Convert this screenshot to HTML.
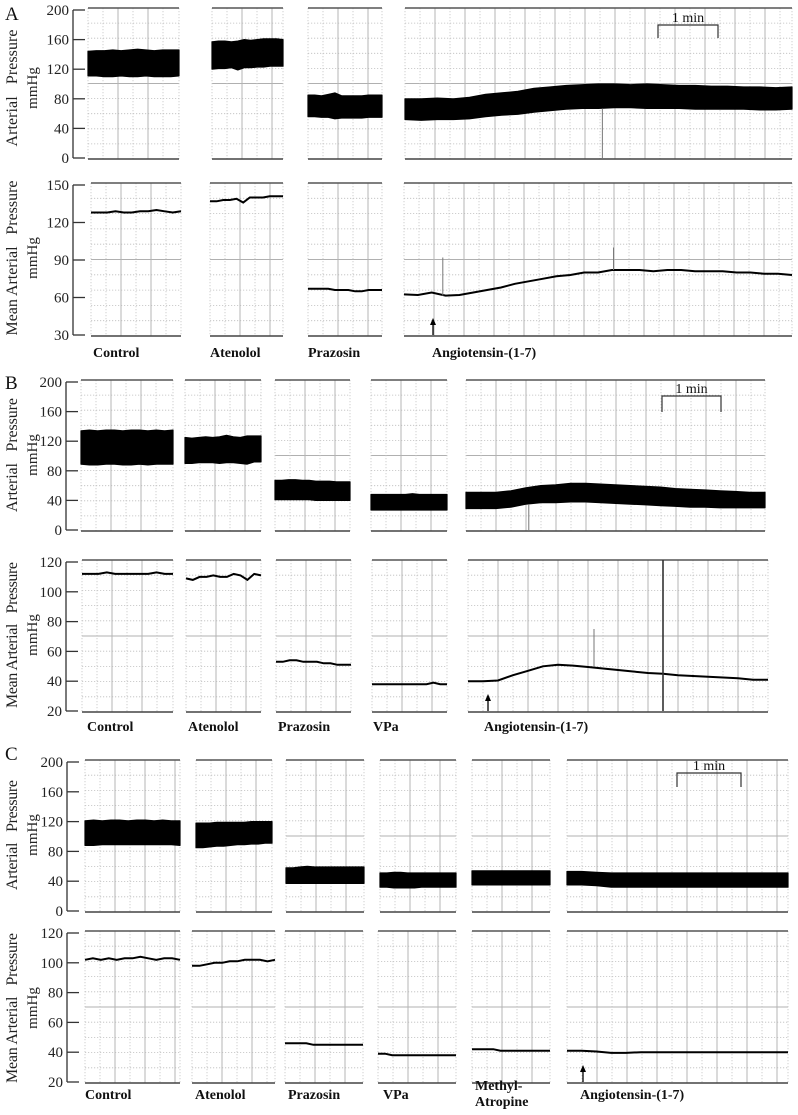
<!DOCTYPE html>
<html><head><meta charset="utf-8"><style>
html,body{margin:0;padding:0;background:#fff;}
svg{display:block;font-family:"Liberation Serif",serif;}
text{white-space:pre;}
</style></head><body>
<svg id="fig" width="798" height="1115" viewBox="0 0 798 1115" xmlns="http://www.w3.org/2000/svg"></svg>
<script>
// ---- Data (mmHg) ----
const aCats = ['Control','Atenolol','Prazosin','Angiotensin-(1-7)'];
const bCats = ['Control','Atenolol','Prazosin','VPa','Angiotensin-(1-7)'];
const cCats = ['Control','Atenolol','Prazosin','VPa','Methyl-Atropine','Angiotensin-(1-7)'];
const topTicks = [0,40,80,120,160,200];
const aMapTicks = [30,60,90,120,150];
const bcMapTicks = [20,40,60,80,100,120];

const aCtrlSys = [144,145,145,146,145,146,147,146,145,146,146,146];
const aCtrlDia = [111,111,110,110,111,110,110,111,110,110,110,111];
const aAtenSys = [157,158,158,157,158,160,159,160,161,161,161,160];
const aAtenDia = [120,121,121,122,119,122,122,123,123,124,124,124];
const aPrazSys = [85,85,84,86,88,84,84,84,84,85,85,85];
const aPrazDia = [56,56,55,55,53,54,54,54,54,55,55,55];
const aAngSys = [80,80,81,80,82,86,88,90,94,96,98,99,100,100,99,100,99,98,98,97,97,96,96,95,96];
const aAngDia = [52,51,52,52,53,56,58,59,62,64,66,67,67,68,68,67,67,67,66,66,66,66,65,65,66];
const aCtrlMap = [128,128,128,129,128,128,129,129,130,129,128,129];
const aAtenMap = [137,137,138,138,139,136,140,140,140,141,141,141];
const aPrazMap = [67,67,67,67,66,66,66,65,65,66,66,66];
const aAngMap = [62.5,62,64,61.5,62,64,66,68,71,73,75,77,78,80,80,82,82,82,81,82,82,81,81,81,80,80,79,79,78];

const bCtrlSys = [134,135,134,135,135,134,135,135,134,135,134,135];
const bCtrlDia = [89,88,88,89,89,88,88,89,88,89,89,89];
const bAtenSys = [125,124,125,126,125,126,128,126,125,127,127,127];
const bAtenDia = [90,90,91,91,91,90,91,91,90,89,92,92];
const bPrazSys = [67,67,68,68,67,67,66,66,66,65,65,65];
const bPrazDia = [41,41,41,41,41,41,40,40,40,40,40,40];
const bVpaSys = [48,48,48,48,48,48,49,48,48,48,48,48];
const bVpaDia = [27,27,27,27,27,27,27,27,27,27,27,27];
const bAngSys = [51,51,51,53,57,60,61,63,63,62,61,60,59,58,56,55,54,53,52,51,51];
const bAngDia = [29,29,29,31,35,37,37,38,38,37,36,35,34,33,32,31,31,30,30,30,30];
const bCtrlMap = [112,112,112,113,112,112,112,112,112,113,112,112];
const bAtenMap = [109,108,110,110,111,110,110,112,111,108,112,111];
const bPrazMap = [53,53,54,54,53,53,53,52,52,51,51,51];
const bVpaMap = [38,38,38,38,38,38,38,38,38,39,38,38];
const bAngMap = [40,40,40.5,44,47,50,51,50.5,49.5,48.5,47.5,46.5,45.5,45,44,43.5,43,42.5,42,41,41];

const cCtrlSys = [121,122,121,122,122,121,122,122,121,122,121,121];
const cCtrlDia = [88,88,89,89,89,89,89,89,89,89,89,88];
const cAtenSys = [118,118,118,119,119,119,119,119,120,120,120,120];
const cAtenDia = [85,85,86,87,87,88,89,89,90,90,91,91];
const cPrazSys = [58,58,59,60,59,59,59,59,59,59,59,59];
const cPrazDia = [37,37,37,37,37,37,37,37,37,37,37,37];
const cVpaSys = [51,51,52,52,51,51,51,51,51,51,51,51];
const cVpaDia = [32,32,31,31,31,31,32,32,32,32,32,32];
const cMethSys = [54,54,54,54,54,54,54,54,54,54,54,54];
const cMethDia = [35,35,35,35,35,35,35,35,35,35,35,35];
const cAngSys = [53,53,52,51,51,51,51,51,51,51,51,51,51,51,51,51];
const cAngDia = [35,35,34,32,32,32,32,32,32,32,32,32,32,32,32,32];
const cCtrlMap = [102,103,102,103,102,103,103,104,103,102,103,103,102];
const cAtenMap = [98,98,99,100,100,101,101,102,102,102,101,102];
const cPrazMap = [46,46,46,46,45,45,45,45,45,45,45,45];
const cVpaMap = [39,39,38,38,38,38,38,38,38,38,38,38];
const cMethMap = [42,42,42,42,41,41,41,41,41,41,41,41];
const cAngMap = [41,41,40.5,39.5,39.5,40,40,40,40,40,40,40,40,40,40,40];

// ---- Layout ----
const NS = 'http://www.w3.org/2000/svg';
const svg = document.getElementById('fig');
function mk(tag, attrs, parent){
  const e = document.createElementNS(NS, tag);
  for (const k in attrs) e.setAttribute(k, attrs[k]);
  (parent || svg).appendChild(e);
  return e;
}
function yScale(ax){ return v => ax.y0 - (v - ax.vmin) / (ax.vmax - ax.vmin) * (ax.y0 - ax.y1); }

const rows = [
 {letter:'A', ly:20, axTop:{x:73,y0:158,y1:10,vmin:0,vmax:200,ticks:topTicks}, axBot:{x:73,y0:335,y1:185,vmin:30,vmax:150,ticks:aMapTicks},
  titleTop:{c:88,len:117}, titleBot:{c:258,len:155},
  topX:[[88,179],[212,283],[308,382],[405,792]], botX:[[91,181],[210,283],[308,382],[404,792]],
  cats:aCats, labelX:[93,210,308,432], labelY:357,
  sys:[aCtrlSys,aAtenSys,aPrazSys,aAngSys], dia:[aCtrlDia,aAtenDia,aPrazDia,aAngDia], map:[aCtrlMap,aAtenMap,aPrazMap,aAngMap],
  arrowX:433, bar:[658,718,25,38]},
 {letter:'B', ly:389, axTop:{x:66,y0:530,y1:382,vmin:0,vmax:200,ticks:topTicks}, axBot:{x:66,y0:711,y1:562,vmin:20,vmax:120,ticks:bcMapTicks},
  titleTop:{c:455,len:114}, titleBot:{c:635,len:146},
  topX:[[81,173],[185,261],[275,350],[371,447],[466,765]], botX:[[82,173],[186,261],[276,351],[372,447],[468,768]],
  cats:bCats, labelX:[87,188,278,373,484], labelY:731,
  sys:[bCtrlSys,bAtenSys,bPrazSys,bVpaSys,bAngSys], dia:[bCtrlDia,bAtenDia,bPrazDia,bVpaDia,bAngDia], map:[bCtrlMap,bAtenMap,bPrazMap,bVpaMap,bAngMap],
  arrowX:488, bar:[662,721,396,412]},
 {letter:'C', ly:760, axTop:{x:67,y0:911,y1:762,vmin:0,vmax:200,ticks:topTicks}, axBot:{x:67,y0:1082,y1:933,vmin:20,vmax:120,ticks:bcMapTicks},
  titleTop:{c:835,len:110}, titleBot:{c:1008,len:150},
  topX:[[85,180],[196,272],[286,364],[380,456],[472,550],[567,788]], botX:[[85,180],[192,275],[285,363],[378,456],[472,550],[567,788]],
  cats:cCats, labelX:[85,195,288,383,475,580], labelY:1099,
  sys:[cCtrlSys,cAtenSys,cPrazSys,cVpaSys,cMethSys,cAngSys], dia:[cCtrlDia,cAtenDia,cPrazDia,cVpaDia,cMethDia,cAngDia], map:[cCtrlMap,cAtenMap,cPrazMap,cVpaMap,cMethMap,cAngMap],
  arrowX:583, bar:[677,741,773,787]}
];

function drawAxis(ax, g){
  const y = yScale(ax);
  const l = mk('line',{x1:ax.x,x2:ax.x,y1:ax.y1,y2:ax.y0,stroke:'#333','stroke-width':1.3},g);
  
  
  ax.ticks.forEach(t=>{
    const tk = mk('line',{x1:ax.x,x2:ax.x+12,y1:y(t),y2:y(t),stroke:'#333','stroke-width':1.3},g);
    
    
    const tx = mk('text',{x:ax.x-4,y:y(t)+5,'text-anchor':'end','font-size':15,fill:'#222'},g);
    
    
    tx.textContent = t;
  });
}
function drawFrame(x0,x1,ax,g){
  const yT = ax.y1-2, yB = ax.y0+1;
  const fg = mk('g',{},g);
  
  
  for(let i=1;i<10;i++){
    const yy = yT + (yB-yT)*i/10;
    mk('line',{x1:x0,x2:x1,y1:yy,y2:yy,stroke:i===5?'#b0b0b0':'#bdbdbd','stroke-width':i===5?1:0.8,'stroke-dasharray':i===5?'':'1.2,1.8'},fg);
  }
  let k=0;
  for(let x=x0+15;x<x1-3;x+=15,k++){
    mk('line',{x1:x,x2:x,y1:yT,y2:yB,stroke:k%2?'#b5b5b5':'#c4c4c4','stroke-width':k%2?1:0.8,'stroke-dasharray':k%2?'':'1.2,1.8'},fg);
  }
  mk('line',{x1:x0,x2:x0,y1:yT,y2:yB,stroke:'#c4c4c4','stroke-width':0.8,'stroke-dasharray':'1.2,1.8'},fg);
  mk('line',{x1:x1,x2:x1,y1:yT,y2:yB,stroke:'#c4c4c4','stroke-width':0.8,'stroke-dasharray':'1.2,1.8'},fg);
  const t = mk('line',{x1:x0,x2:x1,y1:yT,y2:yT,stroke:'#555','stroke-width':1.4},g);
  
  
  const b = mk('line',{x1:x0,x2:x1,y1:yB,y2:yB,stroke:'#444','stroke-width':1.6},g);
  
  
}
function xs(x0,x1,n){ return i => x0 + (x1-x0)*i/(n-1); }

rows.forEach((r,ri)=>{
  const g = mk('g',{});
  
  
  const L = mk('text',{x:5,y:r.ly,'font-size':19,fill:'#111'},g);
  
  
  L.textContent = r.letter;
  drawAxis(r.axTop,g); drawAxis(r.axBot,g);
  [[r.titleTop,'Arterial   Pressure'],[r.titleBot,'Mean Arterial   Pressure']].forEach(([tt,str])=>{
    const t1 = mk('text',{x:0,y:0,'font-size':16,fill:'#222','text-anchor':'middle',textLength:tt.len,lengthAdjust:'spacing',transform:`translate(17,${tt.c}) rotate(-90)`},g);
    
    
    t1.textContent = str;
    const t2 = mk('text',{x:0,y:0,'font-size':15,fill:'#222','text-anchor':'middle',transform:`translate(37,${tt.c}) rotate(-90)`},g);
    
    
    t2.textContent = 'mmHg';
  });
  const yT = yScale(r.axTop), yB = yScale(r.axBot);
  r.cats.forEach((c,ci)=>{
    const [tx0,tx1] = r.topX[ci], [bx0,bx1] = r.botX[ci];
    drawFrame(tx0,tx1,r.axTop,g);
    drawFrame(bx0,bx1,r.axBot,g);
    const s = r.sys[ci], d = r.dia[ci];
    const fx = xs(tx0,tx1,s.length);
    let pts = s.map((v,i)=>fx(i).toFixed(1)+','+yT(v).toFixed(1));
    pts = pts.concat(d.map((v,i)=>fx(i).toFixed(1)+','+yT(v).toFixed(1)).reverse());
    const band = mk('polygon',{points:pts.join(' '),fill:'#000',stroke:'#000','stroke-width':1.2,'stroke-linejoin':'round'},g);
    
    
    const m = r.map[ci], fm = xs(bx0,bx1,m.length);
    const line = mk('polyline',{points:m.map((v,i)=>fm(i).toFixed(1)+','+yB(v).toFixed(1)).join(' '),fill:'none',stroke:'#000','stroke-width':2},g);
    
    
    const lbl = mk('text',{x:r.labelX[ci],y:r.labelY,'font-size':14,'font-weight':'bold',fill:'#111'},g);
    
    
    if(c==='Methyl-Atropine'){
      lbl.setAttribute('y', r.labelY-9);
      lbl.textContent = 'Methyl-';
      const l2 = mk('text',{x:r.labelX[ci],y:r.labelY+7,'font-size':14,'font-weight':'bold',fill:'#111'},g);
      
      
      l2.textContent = 'Atropine';
    } else lbl.textContent = c;
  });
  const ay = r.axBot.y0;
  const ar = mk('g',{},g);
  
  
  mk('line',{x1:r.arrowX,x2:r.arrowX,y1:ay,y2:ay-12,stroke:'#000','stroke-width':1.3},ar);
  mk('polygon',{points:`${r.arrowX-3},${ay-10} ${r.arrowX+3},${ay-10} ${r.arrowX},${ay-17}`,fill:'#000'},ar);
  const [b0,b1,by0,by1] = r.bar;
  const sb = mk('polyline',{points:`${b0},${by1} ${b0},${by0} ${b1},${by0} ${b1},${by1}`,fill:'none',stroke:'#333','stroke-width':1.2},g);
  
  
  const st = mk('text',{x:(b0+b1)/2,y:by0-3,'text-anchor':'middle','font-size':14,fill:'#111'},g);
  
  
  st.textContent = '1 min';
});

// artefact spikes: [slot, subpanel, fraction along trace, tip value]
const spikeFrac = [[0,3,0.51,0],[1,3,0.1,92],[1,3,0.54,100],[3,4,0.21,0],[4,4,0.42,75],[4,4,0.65,120]];
spikeFrac.forEach(([rowSlot,ci,f,v])=>{
  const r = rowSlot<3 ? rows[0] : rows[1];
  const isBot = rowSlot===1 || rowSlot===4;
  const ax = isBot ? r.axBot : r.axTop;
  const [x0,x1] = isBot ? r.botX[ci] : r.topX[ci];
  const x = x0 + (x1-x0)*f;
  const arr = isBot ? r.map[ci] : r.dia[ci];
  const base = arr[Math.round(f*(arr.length-1))];
  const y = yScale(ax);
  const big = v===120;
  const sp = mk('line',{x1:x,x2:x,y1:y(base),y2:big?ax.y0:y(Math.max(v,ax.vmin)),stroke:big?'#333':'#777','stroke-width':big?1.6:1});
  if(big){ sp.setAttribute('y1', ax.y1-2); }
  
  
});
</script>
</body></html>
